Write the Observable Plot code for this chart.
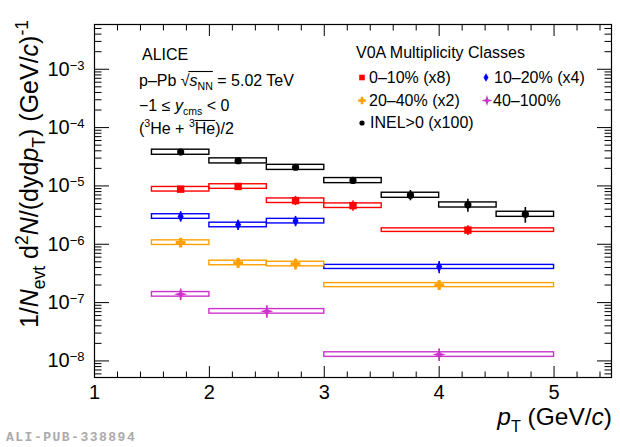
<!DOCTYPE html>
<html><head><meta charset="utf-8">
<script src="https://cdn.jsdelivr.net/npm/d3@7"></script>
<script src="https://cdn.jsdelivr.net/npm/@observablehq/plot@0.6"></script>
<style>
html,body{margin:0;padding:0;background:#fff;}
</style>
</head><body><div id="chart"></div>
<script>
const FONT = "'Liberation Sans', Arial, Helvetica, sans-serif";

// ---- data ----
const seriesNames  = ["0–10% (x8)", "10–20% (x4)", "20–40% (x2)", "40–100%", "INEL>0 (x100)"];
const seriesColors = ["#ff0000", "#0000ff", "#ffa000", "#cc33cc", "#000000"];

const c0_10_pt   = [1.75, 2.25, 2.75, 3.25, 4.25];
const c0_10_lo   = [1.5, 2.0, 2.5, 3.0, 3.5];
const c0_10_hi   = [2.0, 2.5, 3.0, 3.5, 5.0];
const c0_10_y    = [8.8e-6, 9.8e-6, 5.6e-6, 4.6e-6, 1.75e-6];
const c0_10_stat = [0.08, 0.08, 0.18, 0.20, 0.19];
const c0_10_sys  = [0.09, 0.09, 0.09, 0.09, 0.07];

const c10_20_pt   = [1.75, 2.25, 2.75, 4.0];
const c10_20_lo   = [1.5, 2.0, 2.5, 3.0];
const c10_20_hi   = [2.0, 2.5, 3.0, 5.0];
const c10_20_y    = [3.0e-6, 2.15e-6, 2.5e-6, 4.1e-7];
const c10_20_stat = [0.20, 0.20, 0.20, 0.24];
const c10_20_sys  = [0.09, 0.09, 0.09, 0.08];

const c20_40_pt   = [1.75, 2.25, 2.75, 4.0];
const c20_40_lo   = [1.5, 2.0, 2.5, 3.0];
const c20_40_hi   = [2.0, 2.5, 3.0, 5.0];
const c20_40_y    = [1.07e-6, 4.8e-7, 4.6e-7, 2.0e-7];
const c20_40_stat = [0.16, 0.20, 0.22, 0.18];
const c20_40_sys  = [0.09, 0.09, 0.09, 0.08];

const c40_100_pt   = [1.75, 2.5, 4.0];
const c40_100_lo   = [1.5, 2.0, 3.0];
const c40_100_hi   = [2.0, 3.0, 5.0];
const c40_100_y    = [1.39e-7, 7.1e-8, 1.29e-8];
const c40_100_stat = [0.22, 0.24, 0.24];
const c40_100_sys  = [0.09, 0.09, 0.09];

const inel_pt   = [1.75, 2.25, 2.75, 3.25, 3.75, 4.25, 4.75];
const inel_lo   = [1.5, 2.0, 2.5, 3.0, 3.5, 4.0, 4.5];
const inel_hi   = [2.0, 2.5, 3.0, 3.5, 4.0, 4.5, 5.0];
const inel_y    = [3.8e-5, 2.7e-5, 2.09e-5, 1.24e-5, 6.95e-6, 4.74e-6, 3.28e-6];
const inel_stat = [0.05, 0.06, 0.08, 0.12, 0.20, 0.25, 0.30];
const inel_sys  = [0.10, 0.10, 0.10, 0.10, 0.10, 0.10, 0.10];

const xMajor = [1, 2, 3, 4, 5];
const xMinor = d3.range(1.2, 5.5, 0.2).map(v => +v.toFixed(1)).filter(v => !Number.isInteger(v));
const yMajor = [1e-8, 1e-7, 1e-6, 1e-5, 1e-4, 1e-3];
const yMinor = [];
for (let e = -9; e <= -3; e++) for (let m = 2; m <= 9; m++) { const v = m * 10 ** e; if (v > 5.2e-9 && v < 5.85e-3) yMinor.push(v); }

const annotation = ["ALICE", "p–Pb", "= 5.02 TeV", "−1 ≤ ", "< 0"];
const legendTitle = "V0A Multiplicity Classes";

// ---- build table ----
const seriesArrays = [
  [c0_10_pt, c0_10_lo, c0_10_hi, c0_10_y, c0_10_stat, c0_10_sys],
  [c10_20_pt, c10_20_lo, c10_20_hi, c10_20_y, c10_20_stat, c10_20_sys],
  [c20_40_pt, c20_40_lo, c20_40_hi, c20_40_y, c20_40_stat, c20_40_sys],
  [c40_100_pt, c40_100_lo, c40_100_hi, c40_100_y, c40_100_stat, c40_100_sys],
  [inel_pt, inel_lo, inel_hi, inel_y, inel_stat, inel_sys]
];
const rows = [];
seriesArrays.forEach(([pt, lo, hi, y, st, sy], k) => {
  pt.forEach((p, i) => rows.push({series: seriesNames[k], pt: p, lo: lo[i], hi: hi[i], y: y[i], stat: st[i], sys: sy[i]}));
});

// ---- marker shapes ----
const mkSquare = s => ({draw(c){ c.rect(-s, -s, 2*s, 2*s); }});
const mkDiamond = (w, h) => ({draw(c){ c.moveTo(0,-h); c.lineTo(w,0); c.lineTo(0,h); c.lineTo(-w,0); c.closePath(); }});
const mkCross = (r, a) => ({draw(c){
  c.moveTo(-a,-r); c.lineTo(a,-r); c.lineTo(a,-a); c.lineTo(r,-a); c.lineTo(r,a); c.lineTo(a,a);
  c.lineTo(a,r); c.lineTo(-a,r); c.lineTo(-a,a); c.lineTo(-r,a); c.lineTo(-r,-a); c.lineTo(-a,-a); c.closePath(); }});
const mkStar = (r, q) => ({draw(c){
  c.moveTo(0,-r); c.lineTo(q,-q); c.lineTo(r,0); c.lineTo(q,q); c.lineTo(0,r); c.lineTo(-q,q); c.lineTo(-r,0); c.lineTo(-q,-q); c.closePath(); }});
const mkCircle = r => ({draw(c){ c.moveTo(r,0); c.arc(0,0,r,0,2*Math.PI); }});

const dataSymbols   = [mkSquare(3.7), mkDiamond(3, 5.4), mkCross(4.9, 1.6), mkStar(6.5, 1.5), mkCircle(3.6)];
const legendSymbols = [mkSquare(2.8), mkDiamond(2.5, 4.3), mkCross(3.8, 1.3), mkStar(5.5, 1.3), mkCircle(2.6)];

// ---- plot ----
const tickAxes = [];
for (const a of ["left", "right"]) {
  tickAxes.push(Plot.axisY({anchor: a, ticks: yMajor, tickSize: -15, fill: "none", label: null, strokeWidth: 1}));
  tickAxes.push(Plot.axisY({anchor: a, ticks: yMinor, tickSize: -7.5, fill: "none", label: null, strokeWidth: 1}));
}
for (const a of ["top", "bottom"]) {
  tickAxes.push(Plot.axisX({anchor: a, ticks: xMajor.filter(v => v > 1), tickSize: -11, fill: "none", label: null, strokeWidth: 1}));
  tickAxes.push(Plot.axisX({anchor: a, ticks: xMinor, tickSize: -5.5, fill: "none", label: null, strokeWidth: 1}));
}

const chart = Plot.plot({
  width: 620, height: 447,
  marginLeft: 94, marginRight: 9, marginTop: 24, marginBottom: 70,
  style: {fontFamily: FONT, background: "white", color: "black", overflow: "visible"},
  x: {domain: [1, 5.5]},
  y: {type: "log", domain: [5.2e-9, 5.85e-3]},
  color: {domain: seriesNames, range: seriesColors},
  symbol: {domain: seriesNames, range: dataSymbols},
  marks: [
    Plot.rect(rows, {x1: "lo", x2: "hi", y1: d => d.y * (1 - d.sys), y2: d => d.y * (1 + d.sys), stroke: "series", fill: "none", strokeWidth: 1.4}),
    Plot.ruleX(rows, {x: "pt", y1: d => d.y * (1 - d.stat), y2: d => d.y * (1 + d.stat), stroke: "series", strokeWidth: 1.6}),
    Plot.dot(rows, {x: "pt", y: "y", symbol: "series", fill: "series", stroke: "none", r: 4}),
    ...tickAxes,
    Plot.axisX({anchor: "bottom", ticks: xMajor, tickSize: 0, tickPadding: 7, fontSize: 20, label: null, tickFormat: d => String(d)}),
    Plot.axisY({anchor: "left", ticks: yMajor, tickSize: 0, tickPadding: 10, fontSize: 20, label: null, tickFormat: d => String(Math.round(Math.log10(d)))}),
    Plot.frame({stroke: "black", strokeWidth: 1.2})
  ]
});
document.getElementById("chart").append(chart);

const svg = d3.select(chart);

// y tick labels as 10^n with superscripts
svg.selectAll('g[aria-label="y-axis tick label"] text').each(function() {
  const t = d3.select(this);
  const e = t.text().replace("-", "−");
  t.text(null);
  t.append("tspan").text("10");
  t.append("tspan").attr("dy", "-0.45em").attr("font-size", 13).text(e);
});

// rich text helper
function rich(parent, x, y, size, parts, anchor = "start", subScale = 0.66) {
  const t = parent.append("text").attr("x", x).attr("y", y).attr("font-size", size).attr("font-family", FONT)
    .attr("fill", "black").attr("text-anchor", anchor);
  let shift = 0;
  for (const [txt, style = ""] of parts) {
    const fl = style.split(" ");
    const ts = t.append("tspan").text(txt);
    let target = 0, fs = size;
    if (fl.includes("sub")) { target = size * 0.28; fs = size * subScale; }
    if (fl.includes("sup")) { target = -size * 0.42; fs = size * subScale; }
    if (fl.includes("it")) ts.attr("font-style", "italic");
    ts.attr("font-size", fs);
    if (target - shift !== 0) ts.attr("dy", target - shift);
    shift = target;
  }
  return t;
}
function overline(parent, t, a, b, yLine, pad = 0) {
  const n = t.node();
  const e1 = n.getExtentOfChar(a), e2 = n.getExtentOfChar(b);
  parent.append("line").attr("x1", e1.x + pad).attr("x2", e2.x + e2.width).attr("y1", yLine).attr("y2", yLine)
    .attr("stroke", "black").attr("stroke-width", 1.1);
}

const ann = svg.append("g");
// ALICE block
rich(ann, 142, 60, 16, [[annotation[0]]]);
const t2 = rich(ann, 139, 86, 16, [[annotation[1] + " "], ["√"], ["s", "it"], ["NN", "sub"], [" " + annotation[2]]]);
{
  const n = t2.node(); const e = n.getExtentOfChar(5), eN = n.getExtentOfChar(8);
  ann.append("line").attr("x1", e.x + e.width - 1.2).attr("x2", eN.x + eN.width).attr("y1", 86 - 14.5).attr("y2", 86 - 14.5)
    .attr("stroke", "black").attr("stroke-width", 1.1);
}
rich(ann, 139, 111, 16, [[annotation[3]], ["y", "it"], ["cms", "sub"], [" " + annotation[4]]]);
const t4 = rich(ann, 139, 134, 16, [["("], ["3", "sup"], ["He + "], ["3", "sup"], ["He"], [")/2"]]);
overline(ann, t4, 8, 9, 134 - 13.5);

// legend
rich(ann, 356, 58, 16, [[legendTitle]]);
const legendPos = [[362, 77.5, 369, 83], [486, 77.5, 494, 83], [362, 100.5, 369, 106], [487, 100.5, 493, 106], [362, 123, 370, 128]];
seriesNames.forEach((name, k) => {
  const [mx, my, tx, ty] = legendPos[k];
  ann.append("path").attr("d", d3.symbol(legendSymbols[k])()).attr("transform", `translate(${mx},${my})`).attr("fill", seriesColors[k]);
  rich(ann, tx, ty, 16, [[name]]);
});

// axis titles
rich(ann, 612, 425, 24.5, [["p", "it"], ["T", "sub"], [" (GeV/"], ["c", "it"], [")"]], "end");
const yt = rich(ann, 0, 0, 25, [["1/"], ["N", "it"], ["evt", "sub"], [" d"], ["2", "sup"], ["N", "it"], ["/(dy"], ["d"], ["p", "it"], ["T", "sub"], [") (GeV/"], ["c", "it"], [")"], ["-1", "sup"]], "end", 0.7);
yt.attr("transform", "translate(38,20) rotate(-90)");

// publication tag
svg.append("text").attr("x", 6).attr("y", 441).attr("text-anchor", "start").attr("font-family", "'Liberation Mono', 'DejaVu Sans Mono', monospace")
  .attr("font-size", 13).attr("font-weight", "bold").attr("letter-spacing", 1.5).attr("fill", "#ababab").text("ALI-PUB-338894");
</script>
</body></html>
